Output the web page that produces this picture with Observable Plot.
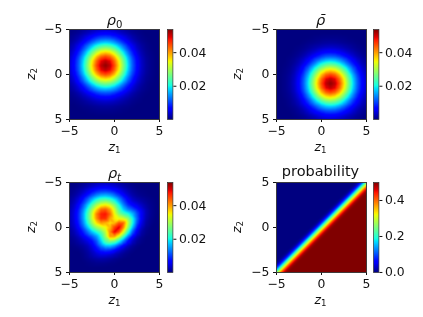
<!DOCTYPE html>
<html><head><meta charset="utf-8">
<script src="https://cdn.jsdelivr.net/npm/d3@7"></script>
<script src="https://cdn.jsdelivr.net/npm/@observablehq/plot@0.6"></script>
<style>
html,body{margin:0;padding:0;background:#fff}
#fig{position:relative;width:423px;height:317px;overflow:hidden;font-family:"DejaVu Sans";color:#111;filter:blur(0.35px)}
#fig svg{position:absolute;overflow:visible;background:none}
.lab{position:absolute;white-space:nowrap;line-height:1;transform:translate(-50%,-50%)}
.lab i{font-style:oblique}
.lab sub{font-size:70%;line-height:0;vertical-align:-0.3em}
</style></head><body><div id="fig"></div>
<script>
// grid coordinates of the density samples (step 0.5 on both axes)
const zGrid = [-5,-4.5,-4,-3.5,-3,-2.5,-2,-1.5,-1,-0.5,0,0.5,1,1.5,2,2.5,3,3.5,4,4.5,5];
// density values, in units of 1e-4; rows run z2 = -5 ... 5, columns z1 = -5 ... 5
const rho0 = [
[3,5,8,13,19,25,31,35,37,35,31,25,19,13,8,5,3,1,1,0,0],
[5,9,15,25,35,47,58,66,69,66,58,47,35,25,15,9,5,2,1,0,0],
[8,15,26,42,61,81,100,114,118,114,100,81,61,42,26,15,8,4,2,1,0],
[13,25,42,66,96,129,159,179,187,179,159,129,96,66,42,25,13,7,3,1,0],
[19,35,61,96,140,187,231,261,273,261,231,187,140,96,61,35,19,9,4,2,1],
[25,47,81,129,187,251,308,349,364,349,308,251,187,129,81,47,25,12,6,2,1],
[31,58,100,159,231,308,380,430,449,430,380,308,231,159,100,58,31,15,7,3,1],
[35,66,114,179,261,349,430,488,509,488,430,349,261,179,114,66,35,17,8,3,1],
[37,69,118,187,273,364,449,509,531,509,449,364,273,187,118,69,37,18,8,3,1],
[35,66,114,179,261,349,430,488,509,488,430,349,261,179,114,66,35,17,8,3,1],
[31,58,100,159,231,308,380,430,449,430,380,308,231,159,100,58,31,15,7,3,1],
[25,47,81,129,187,251,308,349,364,349,308,251,187,129,81,47,25,12,6,2,1],
[19,35,61,96,140,187,231,261,273,261,231,187,140,96,61,35,19,9,4,2,1],
[13,25,42,66,96,129,159,179,187,179,159,129,96,66,42,25,13,7,3,1,0],
[8,15,26,42,61,81,100,114,118,114,100,81,61,42,26,15,8,4,2,1,0],
[5,9,15,25,35,47,58,66,69,66,58,47,35,25,15,9,5,2,1,0,0],
[3,5,8,13,19,25,31,35,37,35,31,25,19,13,8,5,3,1,1,0,0],
[1,2,4,7,9,12,15,17,18,17,15,12,9,7,4,2,1,1,0,0,0],
[1,1,2,3,4,6,7,8,8,8,7,6,4,3,2,1,1,0,0,0,0],
[0,0,1,1,2,2,3,3,3,3,3,2,2,1,1,0,0,0,0,0,0],
[0,0,0,1,1,1,1,1,1,1,1,1,1,1,0,0,0,0,0,0,0]];
const rhoBar = [
[0,0,0,0,0,0,0,1,1,1,1,1,1,1,1,1,1,1,0,0,0],
[0,0,0,0,0,0,1,1,2,2,3,3,3,3,3,2,2,1,1,0,0],
[0,0,0,0,1,1,2,3,4,6,7,8,8,8,7,6,4,3,2,1,1],
[0,0,0,1,1,2,4,7,9,12,15,17,18,17,15,12,9,7,4,2,1],
[0,0,1,1,3,5,8,13,19,25,31,35,37,35,31,25,19,13,8,5,3],
[0,0,1,2,5,9,15,25,35,47,58,66,69,66,58,47,35,25,15,9,5],
[0,1,2,4,8,15,26,42,61,81,100,114,118,114,100,81,61,42,26,15,8],
[0,1,3,7,13,25,42,66,96,129,159,179,187,179,159,129,96,66,42,25,13],
[1,2,4,9,19,35,61,96,140,187,231,261,273,261,231,187,140,96,61,35,19],
[1,2,6,12,25,47,81,129,187,251,308,349,364,349,308,251,187,129,81,47,25],
[1,3,7,15,31,58,100,159,231,308,380,430,449,430,380,308,231,159,100,58,31],
[1,3,8,17,35,66,114,179,261,349,430,488,509,488,430,349,261,179,114,66,35],
[1,3,8,18,37,69,118,187,273,364,449,509,531,509,449,364,273,187,118,69,37],
[1,3,8,17,35,66,114,179,261,349,430,488,509,488,430,349,261,179,114,66,35],
[1,3,7,15,31,58,100,159,231,308,380,430,449,430,380,308,231,159,100,58,31],
[1,2,6,12,25,47,81,129,187,251,308,349,364,349,308,251,187,129,81,47,25],
[1,2,4,9,19,35,61,96,140,187,231,261,273,261,231,187,140,96,61,35,19],
[0,1,3,7,13,25,42,66,96,129,159,179,187,179,159,129,96,66,42,25,13],
[0,1,2,4,8,15,26,42,61,81,100,114,118,114,100,81,61,42,26,15,8],
[0,0,1,2,5,9,15,25,35,47,58,66,69,66,58,47,35,25,15,9,5],
[0,0,1,1,3,5,8,13,19,25,31,35,37,35,31,25,19,13,8,5,3]];
const rhoT = [
[1,3,5,9,14,19,24,28,29,27,23,17,12,7,4,2,1,0,0,0,0],
[3,6,11,18,28,39,49,56,58,54,46,35,24,15,8,4,2,1,0,0,0],
[5,11,20,33,51,71,90,102,105,98,83,63,43,27,15,8,5,3,1,0,0],
[8,17,32,55,85,118,148,169,174,162,137,105,72,44,25,15,9,6,3,1,0],
[12,26,48,82,126,176,221,252,260,242,205,155,105,65,40,28,19,12,7,3,1],
[17,35,65,111,171,237,299,340,353,327,274,204,139,93,67,51,34,19,9,4,1],
[21,43,80,136,208,290,368,430,440,400,325,241,177,139,113,83,51,26,11,4,1],
[23,47,88,150,230,320,415,470,480,430,347,278,239,211,168,112,61,28,11,4,1],
[23,47,88,150,230,321,408,465,465,400,355,340,326,284,205,123,61,25,9,3,0],
[21,43,80,136,209,290,362,400,390,365,385,440,430,316,206,111,50,19,7,2,0],
[17,35,65,111,171,235,289,318,341,386,455,495,410,288,170,84,35,12,4,1,0],
[12,26,48,82,125,171,209,248,312,410,490,440,337,218,118,55,21,8,3,1,0],
[8,17,32,55,83,113,149,207,292,400,400,328,233,138,69,30,12,4,1,0,0],
[5,11,20,33,50,74,114,178,247,283,266,206,135,74,35,15,6,2,1,0,0],
[3,6,11,18,30,52,90,138,175,179,154,109,66,34,16,6,2,1,0,0,0],
[1,3,4,10,20,38,64,90,101,95,74,48,28,14,6,2,1,0,0,0,0],
[1,1,1,6,14,26,39,49,49,42,30,19,10,5,2,1,0,0,0,0,0],
[0,1,1,4,9,14,19,21,19,15,10,6,3,1,1,0,0,0,0,0,0],
[0,0,0,2,4,6,8,8,7,5,4,2,1,0,0,0,0,0,0,0,0],
[0,0,1,1,2,2,2,2,2,1,1,0,0,0,0,0,0,0,0,0,0],
[0,0,0,0,1,1,1,1,1,0,0,0,0,0,0,0,0,0,0,0,0]];
// probability as read across the diagonal: offset z1 - z2 and value
const probOffset = [-10,-1.3,-1,-0.8,-0.6,-0.4,-0.2,0,0.2,0.4,0.6,0.8,1,1.3,10];
const probValue  = [0,0,0.01,0.03,0.07,0.12,0.19,0.25,0.31,0.38,0.43,0.47,0.49,0.5,0.5];
const densityDomain = [0.0002,0.0538];
const probDomain = [0,0.5];
const densityTicks = [0.02,0.04];
const probTicks = [0,0.2,0.4];
const zTicks = [-5,0,5];
// jet colour stops
const jetStops = [0,0.11,0.125,0.34,0.35,0.375,0.64,0.65,0.66,0.89,0.91,1];
const jetColors = ["#000080","#0000ff","#0000ff","#00dbff","#00e5f8","#14ffe3","#eeff08","#f7f600","#ffec00","#ff1300","#e80000","#800000"];

const fig = document.getElementById("fig");
const FS = "12.4px", ML = 45, MT = 6, MB = 26, MR = 6;
const style = {fontSize:FS,fontFamily:"DejaVu Sans",color:"#111",background:"none"};
const jet = d => ({type:"linear",domain:jetStops.map(f=>d[0]+(d[1]-d[0])*f),range:jetColors,clamp:true});
const tableOf = m => m.flatMap((row,j)=>row.map((v,i)=>({z1:zGrid[i],z2:zGrid[j],v:v/10000})));
const place = (svg,l,t)=>{svg.style.left=l+"px";svg.style.top=t+"px";fig.appendChild(svg);};

function panel(px,py,pw,ph,mark,yDomain,domain){
  const svg = Plot.plot({width:ML+pw+MR,height:MT+ph+MB,marginLeft:ML,marginRight:MR,marginTop:MT,marginBottom:MB,style,
    x:{domain:[-5,5],ticks:zTicks,tickSize:3,tickPadding:4,label:null},
    y:{domain:yDomain,ticks:zTicks,tickSize:3,tickPadding:4,label:null},
    color:jet(domain),
    marks:[mark,Plot.frame({stroke:"#333",strokeWidth:0.9})]});
  place(svg,px-ML,py-MT);
}
function colorbar(px,py,pw,ph,domain,ticks,fmt){
  const svg = Plot.plot({width:4+pw+50,height:MT+ph+MB,marginLeft:4,marginRight:50,marginTop:MT,marginBottom:MB,style,
    x:{domain:[0,1],axis:null},
    y:{domain,axis:"right",ticks,tickFormat:fmt,tickSize:3,tickPadding:3,label:null},
    color:jet(domain),
    marks:[Plot.raster({fill:(x,y)=>y,x1:0,x2:1,y1:domain[0],y2:domain[1],pixelSize:1}),Plot.frame({stroke:"#333",strokeWidth:0.7})]});
  place(svg,px-4,py-MT);
}
const density = m => Plot.raster(tableOf(m),{x:"z1",y:"z2",fill:"v",interpolate:"barycentric",pixelSize:1});
const lab = (html,x,y,fs,rot)=>{const d=document.createElement("div");d.className="lab";d.innerHTML=html;
  d.style.left=x+"px";d.style.top=y+"px";d.style.fontSize=fs+"px";
  if(rot)d.style.transform="translate(-50%,-50%) rotate(-90deg)";fig.appendChild(d);};

const X=[69.3,275.7], Y=[29,181.7], W=90, H=90, CBX=[166.7,373], CBW=5.4;
panel(X[0],Y[0],W,H,density(rho0),[5,-5],densityDomain);
colorbar(CBX[0],Y[0],CBW,H,densityDomain,densityTicks,d3.format(".2f"));
panel(X[1],Y[0],W,H,density(rhoBar),[5,-5],densityDomain);
colorbar(CBX[1],Y[0],CBW,H,densityDomain,densityTicks,d3.format(".2f"));
panel(X[0],Y[1],W,H,density(rhoT),[5,-5],densityDomain);
colorbar(CBX[0],Y[1],CBW,H,densityDomain,densityTicks,d3.format(".2f"));
const probAt = d3.scaleLinear().domain(probOffset).range(probValue);
panel(X[1],Y[1],W,H,Plot.raster({fill:(x,y)=>probAt(x-y),x1:-5,x2:5,y1:-5,y2:5,pixelSize:1}),[-5,5],probDomain);
colorbar(CBX[1],Y[1],CBW,H,probDomain,probTicks,d3.format(".1f"));

// titles and axis labels
lab('<i>ρ</i><sub>0</sub>',114.5,20,14.5);
lab('<i>ρ̄</i>',320.5,20,14.5);
lab('<i>ρ</i><sub><i>t</i></sub>',114.5,173,14.5);
lab('probability',320.5,171,14.5);
for(const x of [114.5,320.5]) for(const y of [146.5,299.5]) lab('<i>z</i><sub>1</sub>',x,y,12.4);
for(const x of [31,237]) for(const y of [74,227]) lab('<i>z</i><sub>2</sub>',x,y,12.4,true);
</script></body></html>
